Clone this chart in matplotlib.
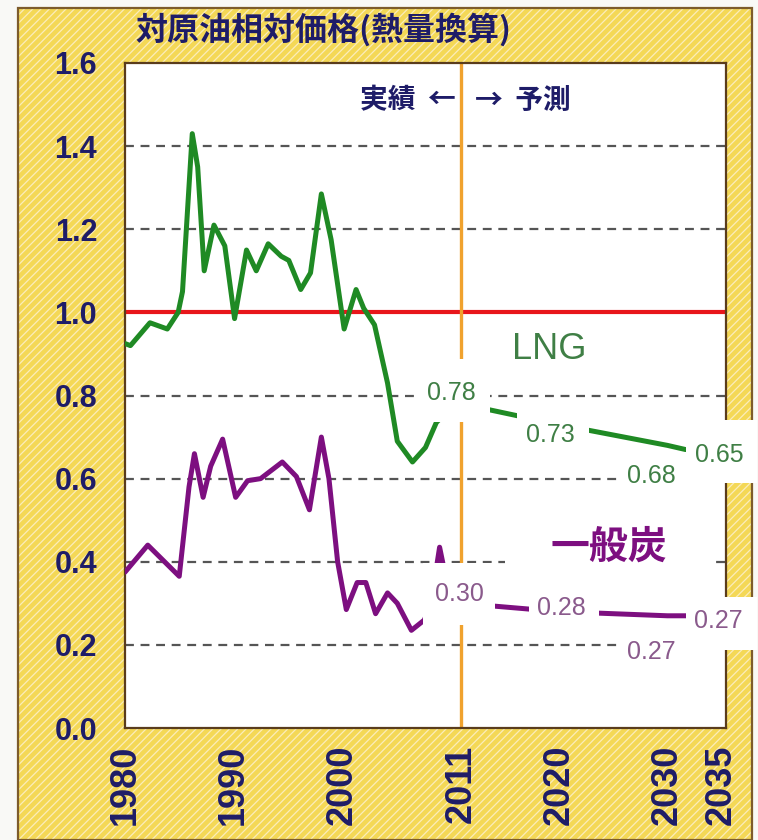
import matplotlib
matplotlib.use('Agg')
import matplotlib.pyplot as plt
from matplotlib.patches import Rectangle

plt.rcParams['font.family'] = ['Liberation Sans', 'Noto Sans CJK JP']
plt.rcParams['hatch.linewidth'] = 0.9

# 実績 (年, 値)
lng_years = [1980.0, 1980.5, 1982.3, 1983.9, 1984.9, 1985.3, 1986.2, 1986.7, 1987.3,
             1988.2, 1989.2, 1990.1, 1991.2, 1992.1, 1993.2, 1994.4, 1995.1, 1996.2,
             1997.1, 1998.1, 1999.0, 2000.2, 2001.3, 2002.0, 2003.0, 2004.2, 2005.1,
             2006.5, 2007.7, 2008.7, 2010.0, 2011.0]
lng_vals = [0.925, 0.92, 0.975, 0.96, 1.0, 1.05, 1.43, 1.35, 1.10,
            1.21, 1.16, 0.985, 1.15, 1.10, 1.165, 1.135, 1.125, 1.055,
            1.095, 1.285, 1.175, 0.96, 1.055, 1.01, 0.97, 0.83, 0.69,
            0.64, 0.675, 0.735, 0.77, 0.78]

coal_years = [1980.0, 1982.1, 1985.0, 1985.9, 1986.4, 1987.2, 1987.9, 1989.0, 1990.2,
              1991.3, 1992.5, 1994.5, 1995.8, 1997.0, 1998.1, 1998.8, 1999.6, 2000.4,
              2001.4, 2002.2, 2003.1, 2004.2, 2005.1, 2006.4, 2007.6, 2008.2, 2009.0,
              2009.9, 2011.0]
coal_vals = [0.375, 0.44, 0.365, 0.58, 0.66, 0.555, 0.63, 0.695, 0.555,
             0.595, 0.60, 0.64, 0.605, 0.525, 0.70, 0.60, 0.40, 0.285,
             0.35, 0.35, 0.275, 0.325, 0.30, 0.235, 0.26, 0.30, 0.435,
             0.32, 0.30]

# 予測
fc_years = [2011, 2020, 2030, 2035]
lng_fc = [0.78, 0.73, 0.68, 0.65]
coal_fc = [0.30, 0.28, 0.27, 0.27]

xticks = [1980, 1990, 2000, 2011, 2020, 2030, 2035]
yticks = [0.0, 0.2, 0.4, 0.6, 0.8, 1.0, 1.2, 1.4, 1.6]

navy = '#1e1c68'
green = '#1f8a24'
purple = '#7d0f80'
green_txt = '#3f7f45'
purple_txt = '#8a5a8c'

fig = plt.figure(figsize=(7.58, 8.4), dpi=100, facecolor='#f9f9f6')

# 背景（黄色の斜線）と枠
fig.patches.append(Rectangle((18 / 758, 0), 734 / 758, 832 / 840, transform=fig.transFigure,
                             facecolor='#f4d856', edgecolor='#fbedbb', hatch='////',
                             linewidth=0, zorder=-2))
fig.patches.append(Rectangle((18 / 758, 0), 734 / 758, 832 / 840, transform=fig.transFigure,
                             fill=False, edgecolor='#7d5c2c', linewidth=1.6, zorder=-1))

ax = fig.add_axes([125 / 758, 112 / 840, 601 / 758, 665 / 840])
ax.set_zorder(2)
ax.set_facecolor('white')
ax.set_xlim(1980, 2035.4)
ax.set_ylim(0, 1.6)

for s in ax.spines.values():
    s.set_color('#5a3c1c')
    s.set_linewidth(1.6)

ax.set_xticks(xticks)
ax.set_xticklabels([str(v) for v in xticks], rotation=90, fontsize=26,
                   fontweight='bold', color=navy)
ax.set_yticks(yticks)
ax.set_yticklabels([f'{v:.1f}' for v in yticks], fontsize=22,
                   fontweight='bold', color=navy)
ax.tick_params(axis='x', length=0, pad=12)
ax.tick_params(axis='y', length=0, pad=20)

for v in [0.2, 0.4, 0.6, 0.8, 1.2, 1.4]:
    ax.axhline(v, color='#555555', linewidth=1.6, linestyle=(0, (4, 3)), zorder=1)

ax.axhline(1.0, color='#e8161b', linewidth=3, zorder=2)
ax.axvline(2011, color='#f0a22e', linewidth=2.4, zorder=2)

ax.plot(lng_years, lng_vals, color=green, linewidth=3.6, solid_joinstyle='round',
        solid_capstyle='round', zorder=3)
ax.plot(fc_years, lng_fc, color=green, linewidth=3.6, zorder=3)
ax.plot(coal_years, coal_vals, color=purple, linewidth=3.6, solid_joinstyle='round',
        solid_capstyle='round', zorder=3)
ax.plot(fc_years, coal_fc, color=purple, linewidth=3.6, zorder=3)


def tag(x, y, s, color, box, size=18, **kw):
    x0, x1, y0, y1 = box
    ax.add_patch(Rectangle((x0, y0), x1 - x0, y1 - y0, facecolor='white',
                           edgecolor='none', zorder=4, clip_on=False))
    ax.text(x, y, s, color=color, fontsize=size, ha='center', va='center',
            zorder=5, clip_on=False, **kw)


# 数値ラベル
tag(2010.1, 0.807, f'{lng_fc[0]:.2f}', green_txt, (2006.9, 2013.6, 0.737, 0.887))
tag(2019.2, 0.706, f'{lng_fc[1]:.2f}', green_txt, (2016.1, 2022.8, 0.655, 0.757))
tag(2028.5, 0.607, f'{lng_fc[2]:.2f}', green_txt, (2025.35, 2031.8, 0.55, 0.664))
tag(2034.8, 0.658, f'{lng_fc[3]:.2f}', green_txt, (2031.7, 2038.3, 0.59, 0.742))

tag(2010.8, 0.323, f'{coal_fc[0]:.2f}', purple_txt, (2007.5, 2014.1, 0.248, 0.398))
tag(2020.2, 0.289, f'{coal_fc[1]:.2f}', purple_txt, (2017.2, 2023.7, 0.248, 0.322))
tag(2028.5, 0.183, f'{coal_fc[2]:.2f}', purple_txt, (2025.35, 2031.8, 0.116, 0.243))
tag(2034.7, 0.258, f'{coal_fc[3]:.2f}', purple_txt, (2031.7, 2038.3, 0.188, 0.316))

tag(2024.6, 0.436, '一般炭', purple, (2015.0, 2034.3, 0.37, 0.51), size=28,
    fontweight='bold', family=['Noto Sans CJK JP'])
ax.text(2019.1, 0.911, 'LNG', color=green_txt, fontsize=26, ha='center', va='center', zorder=5)

ax.text(2010.5, 1.51, '実績  ←', color=navy, fontsize=20, fontweight='bold',
        family=['Noto Sans CJK JP'], ha='right', va='center', zorder=5)
ax.text(2012.3, 1.51, '→  予測', color=navy, fontsize=20, fontweight='bold',
        family=['Noto Sans CJK JP'], ha='left', va='center', zorder=5)

fig.text(135 / 758, 1 - 30 / 840, '対原油相対価格(熱量換算)', color=navy, fontsize=23,
         fontweight='bold', family=['Noto Sans CJK JP'], ha='left', va='center')

fig.savefig('out.png', dpi=100, facecolor=fig.get_facecolor())
